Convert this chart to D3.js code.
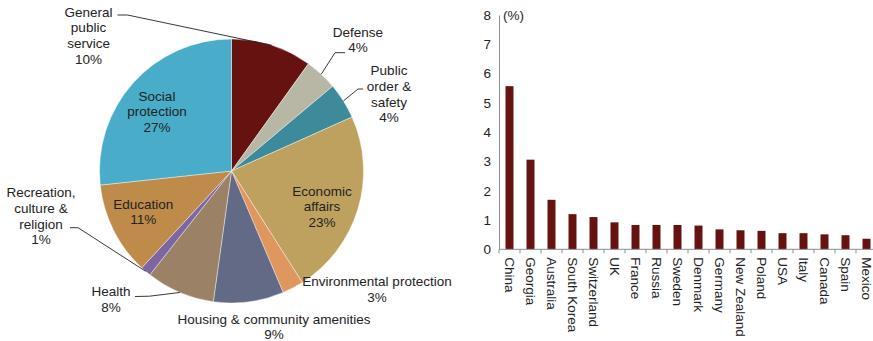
<!DOCTYPE html>
<html>
<head>
<meta charset="utf-8">
<script src="https://cdn.jsdelivr.net/npm/d3@7"></script>
<style>
  body { margin: 0; background: #fff; }
  svg { display: block; font-family: "Liberation Sans", Arial, sans-serif; }
  text { fill: #222; }
</style>
</head>
<body>
<svg width="873" height="341"></svg>
<script>
// pie: spending by function (share, %)
var sectors = ["General public service", "Defense", "Public order & safety", "Economic affairs",
  "Environmental protection", "Housing & community amenities", "Health",
  "Recreation, culture & religion", "Education", "Social protection"];
var shares = [9.9, 4.0, 4.4, 22.7, 2.6, 8.6, 8.4, 1.3, 11.4, 26.7];
var sectorColors = ["#661211", "#b8b7a5", "#3d8a9b", "#bfa15f", "#e0975f",
  "#626a86", "#9b8266", "#7e66a3", "#bf8b4b", "#49acc9"];

// bars: by country (%)
var countries = ["China", "Georgia", "Australia", "South Korea", "Switzerland", "UK", "France",
  "Russia", "Sweden", "Denmark", "Germany", "New Zealand", "Poland", "USA", "Italy",
  "Canada", "Spain", "Mexico"];
var values = [5.57, 3.06, 1.69, 1.2, 1.1, 0.92, 0.83, 0.83, 0.83, 0.81, 0.68, 0.65, 0.63,
  0.55, 0.55, 0.51, 0.48, 0.36];
var yTicks = [0, 1, 2, 3, 4, 5, 6, 7, 8];

var fs = 13.5;
var svg = d3.select("svg");

// ---- pie ----
var cx = 231.5, cy = 171, R = 132;
var pie = d3.pie().sort(null).value(function(d) { return d; });
var arcs = pie(shares);
var arc = d3.arc().innerRadius(0).outerRadius(R);

var gPie = svg.append("g").attr("transform", "translate(" + cx + "," + cy + ")");
gPie.selectAll("path")
  .data(arcs)
  .enter().append("path")
  .attr("d", arc)
  .attr("fill", function(d, i) { return sectorColors[i]; })
  .attr("stroke", "#fff")
  .attr("stroke-width", 0.4);

// label layout, relative to pie centre (x, first line y, lines, leader start)
var labelLayout = [
  { x: -143, y: -159, lines: ["General", "public", "service"], lead: [[-114, -156], [-104, -156]] },
  { x: 126.5, y: -139, lines: ["Defense"], lead: [[113.5, -118.3], [103.5, -118.3]] },
  { x: 157.5, y: -100.3, lines: ["Public", "order &", "safety"], lead: [[131.5, -82], [126.5, -82]] },
  { x: 90.5, y: 20, lines: ["Economic", "affairs"] },
  { x: 145.5, y: 110.7, lines: ["Environmental protection"] },
  { x: 42.5, y: 148, lines: ["Housing & community amenities"] },
  { x: -120.5, y: 120.7, lines: ["Health"], lead: [[-96.5, 125.5], [-82, 125.2]] },
  { x: -190.5, y: 21.7, lines: ["Recreation,", "culture &", "religion"], lead: [[-161.5, 56.7], [-153.5, 56.7]] },
  { x: -88.2, y: 33, lines: ["Education"] },
  { x: -74.5, y: -75, lines: ["Social", "protection"] }
];
var lh = 15.6;
var fmt = function(v) { return Math.round(v) + "%"; };

arcs.forEach(function(a, i) {
  var L = labelLayout[i];
  var t = gPie.append("text")
    .attr("text-anchor", "middle")
    .attr("font-size", fs);
  L.lines.concat([fmt(shares[i])]).forEach(function(s, k) {
    t.append("tspan")
      .attr("x", L.x)
      .attr("y", L.y + k * lh)
      .attr("dy", "0.35em")
      .text(s);
  });
  if (L.lead) {
    var mid = (a.startAngle + a.endAngle) / 2;
    var end = [Math.sin(mid) * R, -Math.cos(mid) * R];
    gPie.append("path")
      .attr("d", d3.line()(L.lead.concat([end])))
      .attr("fill", "none")
      .attr("stroke", "#222")
      .attr("stroke-width", 0.9);
  }
});

// ---- bar chart ----
var x = d3.scaleBand().domain(countries).range([499, 877])
  .paddingInner(0.62).paddingOuter(0.31);
var y = d3.scaleLinear().domain([0, 8]).range([249.3, 15]);

svg.append("g").selectAll("rect")
  .data(values)
  .enter().append("rect")
  .attr("x", function(d, i) { return x(countries[i]); })
  .attr("y", function(d) { return y(d); })
  .attr("width", x.bandwidth())
  .attr("height", function(d) { return y(0) - y(d); })
  .attr("fill", "#661211");

var yAxis = svg.append("g")
  .attr("transform", "translate(499,0)")
  .call(d3.axisLeft(y).tickValues(yTicks).tickSize(0).tickPadding(8));
yAxis.select(".domain").attr("stroke", "#8c8c8c");
yAxis.selectAll("text").attr("font-size", fs).attr("font-family", null).attr("fill", "#222");

svg.append("text")
  .attr("x", 503)
  .attr("y", y(8))
  .attr("dy", "0.35em")
  .attr("font-size", fs)
  .text("(%)");

// x axis with ticks between categories
var step = x.step();
var bounds = countries.map(function(c) { return x(c) - (step - x.bandwidth()) / 2; });
bounds.push(877);
var gx = svg.append("g");
gx.append("line")
  .attr("x1", 499).attr("x2", 877)
  .attr("y1", y(0)).attr("y2", y(0))
  .attr("stroke", "#8c8c8c");
gx.selectAll("line.tick")
  .data(bounds)
  .enter().append("line")
  .attr("class", "tick")
  .attr("x1", function(d) { return d; }).attr("x2", function(d) { return d; })
  .attr("y1", y(0)).attr("y2", y(0) + 4)
  .attr("stroke", "#8c8c8c");
gx.selectAll("text")
  .data(countries)
  .enter().append("text")
  .attr("transform", function(d) {
    return "translate(" + (x(d) + x.bandwidth() / 2) + "," + (y(0) + 8) + ") rotate(90)";
  })
  .attr("dy", "0.35em")
  .attr("font-size", fs)
  .text(function(d) { return d; });
</script>
</body>
</html>
